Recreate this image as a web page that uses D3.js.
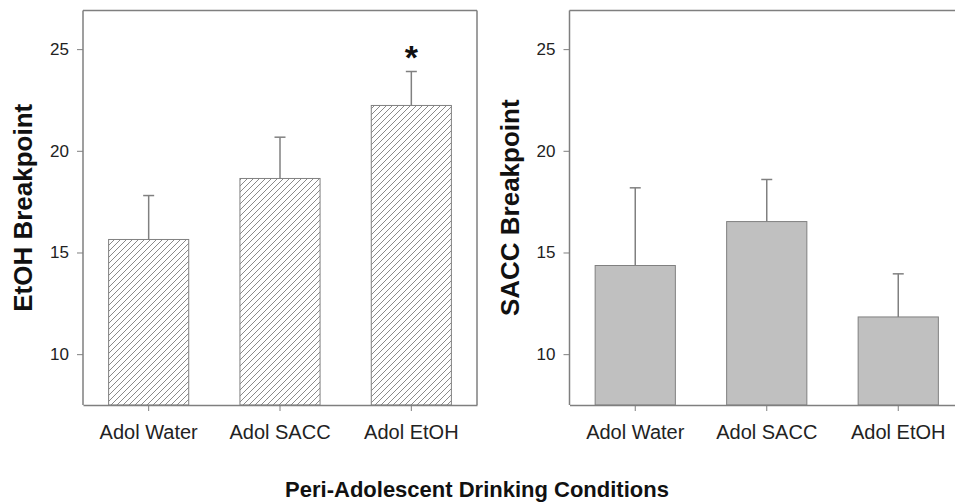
<!DOCTYPE html>
<html>
<head>
<meta charset="utf-8">
<script src="https://cdn.jsdelivr.net/npm/d3@7"></script>
<style>
  html, body { margin: 0; padding: 0; background: #fff; }
  svg { display: block; font-family: "Liberation Sans", Arial, sans-serif; }
</style>
</head>
<body>
<svg id="chart" width="955" height="504"></svg>
<script>
// Breakpoints by peri-adolescent drinking condition (mean + SEM)
const categories = ["Adol Water", "Adol SACC", "Adol EtOH"];
const etohMeans = [15.64, 18.64, 22.23];
const etohSem   = [2.16, 2.03, 1.67];
const saccMeans = [14.36, 16.52, 11.83];
const saccSem   = [3.82, 2.07, 2.12];
const yTicks = [10, 15, 20, 25];
const yDomain = [7.5, 26.9];
const significant = [false, false, true];

const svg = d3.select("#chart");
const axisColor = "#7f7f7f";
const barStroke = "#808080";

// Diagonal hatch fill for the EtOH panel
const defs = svg.append("defs");
const pat = defs.append("pattern")
  .attr("id", "hatch")
  .attr("patternUnits", "userSpaceOnUse")
  .attr("width", 6).attr("height", 6);
pat.append("rect").attr("width", 6).attr("height", 6).attr("fill", "#fff");
pat.append("path")
  .attr("d", "M-1,1 l2,-2 M0,6 l6,-6 M5,7 l2,-2")
  .attr("stroke", "#8a8a8a").attr("stroke-width", 1);

const plotTop = 10.5, plotBottom = 405;
const y = d3.scaleLinear().domain(yDomain).range([plotBottom, plotTop]);

function panel(opts) {
  const x = d3.scaleBand()
    .domain(categories)
    .range([opts.x0, opts.x1])
    .paddingInner(0.39)
    .paddingOuter(0.195);

  const g = svg.append("g");

  // bars
  g.selectAll("rect.bar")
    .data(categories)
    .join("rect")
    .attr("class", "bar")
    .attr("x", d => x(d))
    .attr("width", x.bandwidth())
    .attr("y", (d, i) => y(opts.means[i]))
    .attr("height", (d, i) => y(yDomain[0]) - y(opts.means[i]))
    .attr("fill", opts.fill)
    .attr("stroke", barStroke)
    .attr("stroke-width", 1);

  // upper error bars
  const eb = g.selectAll("g.err")
    .data(categories)
    .join("g")
    .attr("class", "err");
  eb.append("line")
    .attr("x1", d => x(d) + x.bandwidth() / 2)
    .attr("x2", d => x(d) + x.bandwidth() / 2)
    .attr("y1", (d, i) => y(opts.means[i]))
    .attr("y2", (d, i) => y(opts.means[i] + opts.sem[i]))
    .attr("stroke", barStroke).attr("stroke-width", 1.5);
  eb.append("line")
    .attr("x1", d => x(d) + x.bandwidth() / 2 - 5.5)
    .attr("x2", d => x(d) + x.bandwidth() / 2 + 5.5)
    .attr("y1", (d, i) => y(opts.means[i] + opts.sem[i]))
    .attr("y2", (d, i) => y(opts.means[i] + opts.sem[i]))
    .attr("stroke", barStroke).attr("stroke-width", 1.5);

  // significance markers
  if (opts.marks) {
    g.selectAll("text.sig")
      .data(categories.filter((d, i) => opts.marks[i]))
      .join("text")
      .attr("class", "sig")
      .attr("x", d => x(d) + x.bandwidth() / 2)
      .attr("y", d => {
        const i = categories.indexOf(d);
        return y(opts.means[i] + opts.sem[i]) - 3;
      })
      .attr("text-anchor", "middle")
      .attr("font-size", 34)
      .attr("font-weight", "bold")
      .attr("fill", "#111")
      .text("*");
  }

  // frame (top / right)
  g.append("line")
    .attr("x1", opts.x0).attr("x2", opts.x1)
    .attr("y1", plotTop).attr("y2", plotTop)
    .attr("stroke", axisColor).attr("stroke-width", 1.5);
  g.append("line")
    .attr("x1", opts.x1).attr("x2", opts.x1)
    .attr("y1", plotTop).attr("y2", plotBottom)
    .attr("stroke", axisColor).attr("stroke-width", 1.5);

  // y axis
  const ya = g.append("g")
    .attr("transform", `translate(${opts.x0},0)`)
    .call(d3.axisLeft(y).tickValues(yTicks).tickSize(6).tickSizeOuter(0).tickPadding(8));
  ya.select(".domain").attr("stroke", axisColor).attr("stroke-width", 1.5)
    .attr("d", `M0,${plotTop}V${plotBottom}`);
  ya.selectAll(".tick line").attr("stroke", axisColor);
  ya.selectAll(".tick text")
    .attr("font-size", 17).attr("fill", "#222")
    .attr("font-family", "Liberation Sans, Arial, sans-serif");

  // x axis
  const xa = g.append("g")
    .attr("transform", `translate(0,${plotBottom})`)
    .call(d3.axisBottom(x).tickSize(6).tickSizeOuter(0).tickPadding(14));
  xa.select(".domain").attr("stroke", axisColor).attr("stroke-width", 1.5);
  xa.selectAll(".tick line").attr("stroke", axisColor);
  xa.selectAll(".tick text")
    .attr("font-size", 20).attr("fill", "#222")
    .attr("font-family", "Liberation Sans, Arial, sans-serif");

  // y title
  g.append("text")
    .attr("transform", `translate(${opts.x0 - 51},${(plotTop + plotBottom) / 2}) rotate(-90)`)
    .attr("text-anchor", "middle")
    .attr("font-size", 26)
    .attr("font-weight", "bold")
    .attr("fill", "#111")
    .text(opts.title);
}

panel({ x0: 83, x1: 477, means: etohMeans, sem: etohSem, fill: "url(#hatch)",
        title: "EtOH Breakpoint", marks: significant });
panel({ x0: 569.5, x1: 964, means: saccMeans, sem: saccSem, fill: "#c0c0c0",
        title: "SACC Breakpoint" });

svg.append("text")
  .attr("x", 477)
  .attr("y", 497)
  .attr("text-anchor", "middle")
  .attr("font-size", 22)
  .attr("font-weight", "bold")
  .attr("fill", "#111")
  .text("Peri-Adolescent Drinking Conditions");
</script>
</body>
</html>
